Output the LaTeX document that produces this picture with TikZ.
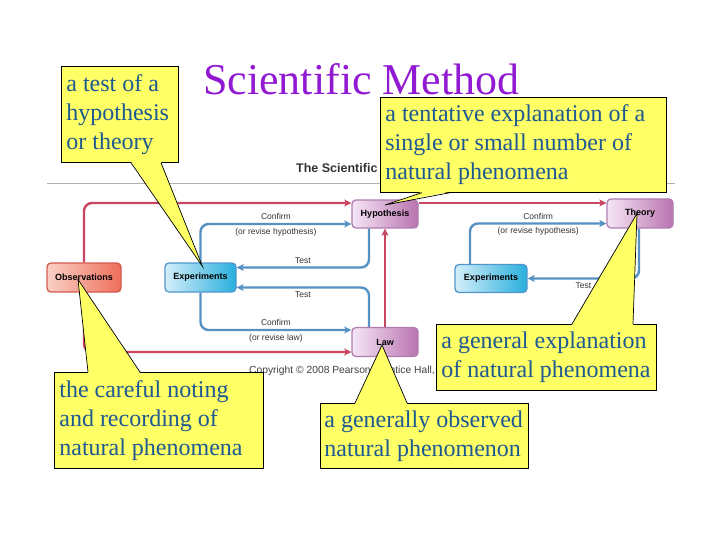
\documentclass[tikz,border=0pt]{standalone}
\usepackage{fontspec}
\setmainfont{Liberation Serif}
\setsansfont{Liberation Sans}
\usetikzlibrary{positioning}
\usetikzlibrary{arrows.meta}
\usetikzlibrary{calc}

\definecolor{titlepurple}{RGB}{145,25,210}
\definecolor{notefill}{RGB}{255,255,102}
\definecolor{notetext}{RGB}{30,90,145}
\definecolor{redarrow}{RGB}{200,70,95}
\definecolor{bluearrow}{RGB}{85,145,195}
\definecolor{obsborder}{RGB}{210,90,80}
\definecolor{obsleft}{RGB}{250,208,198}
\definecolor{obsright}{RGB}{238,110,90}
\definecolor{expborder}{RGB}{80,150,205}
\definecolor{expleft}{RGB}{212,238,250}
\definecolor{expright}{RGB}{40,175,220}
\definecolor{purpborder}{RGB}{175,125,175}
\definecolor{purpleft}{RGB}{246,230,246}
\definecolor{purpright}{RGB}{185,115,175}

\begin{document}
\begin{tikzpicture}[x=1pt, y=-1pt,
        box/.style={draw, line width=1.3pt, rounded corners=4pt, inner sep=0pt,
            font=\sffamily\bfseries\fontsize{9}{10}\selectfont},
        obsbox/.style={box, draw=obsborder, left color=obsleft, right color=obsright},
        expbox/.style={box, draw=expborder, left color=expleft, right color=expright},
        purpbox/.style={box, draw=purpborder, left color=purpleft, right color=purpright},
        redline/.style={draw=redarrow, line width=2.4pt, rounded corners=8pt,
            -{Stealth[length=7pt, width=7pt, inset=1.5pt]}},
        blueline/.style={draw=bluearrow, line width=2.4pt, rounded corners=8pt,
            -{Stealth[length=7pt, width=7pt, inset=1.5pt]}},
        lbl/.style={font=\sffamily\fontsize{8.5}{10}\selectfont, text=black!80, inner sep=3pt},
        note/.style={draw=black, line width=0.7pt, fill=notefill, text=notetext, anchor=north west,
            font=\fontsize{24}{28.8}\selectfont, align=left, inner xsep=5pt, inner ysep=2pt,
            execute at begin node={\spaceskip=6pt\relax\hyphenpenalty=10000\relax}},
        pointer/.style={draw=black, line width=0.7pt, line join=miter}]
        \useasboundingbox (0,0) rectangle (720,540);

        % header of the figure
        \node[anchor=base west, inner sep=0pt, text=black!80,
            font=\sffamily\bfseries\fontsize{12.5}{14}\selectfont] (Header) at (296,173) {The Scientific};
        \draw[black!30, line width=0.8pt] (47,183) -- (675,183);

        \node[obsbox, minimum width=74pt, minimum height=29pt] (Observations) at (84,277.5) {Observations};
        \node[expbox, minimum width=71pt, minimum height=29pt] (Experiments) at (200.5,277.5) {Experiments};
        \node[purpbox, minimum width=66pt, minimum height=28pt] (Hypothesis) at (385,214) {Hypothesis};
        \node[purpbox, minimum width=66pt, minimum height=29pt] (Law) at (385,342) {Law};
        \node[purpbox, minimum width=66pt, minimum height=29pt] (Theory) at (640,213.5) {Theory};
        \node[expbox, minimum width=72pt, minimum height=28pt] (Experiments2) at (491,278.5) {Experiments};

        \draw[redline] (Observations.north) |- ([yshift=11pt]Hypothesis.west);
        \draw[redline] (Observations.south) |- ([yshift=-10pt]Law.west);
        \draw[redline] ([yshift=11pt]Hypothesis.east) -- ([yshift=11pt]Hypothesis.east -| Theory.west);
        \draw[redline] (Law.north) -- (Hypothesis.south);

        \draw[blueline] (Experiments.north) |- ([yshift=-10pt]Hypothesis.west)
            node[lbl, above, pos=0.75] {Confirm}
            node[lbl, below, pos=0.75] {(or revise hypothesis)};
        \draw[blueline] ([xshift=-16pt]Hypothesis.south) |- ([yshift=10pt]Experiments.east)
            node[lbl, above, pos=0.75] {Test};
        \draw[blueline] ([xshift=-16pt]Law.north) |- ([yshift=-10pt]Experiments.east)
            node[lbl, below, pos=0.75] {Test};
        \draw[blueline] (Experiments.south) |- ([yshift=12pt]Law.west)
            node[lbl, above, pos=0.75] {Confirm}
            node[lbl, below, pos=0.75] {(or revise law)};
        \draw[blueline] ([xshift=-21pt]Experiments2.north) |- ([yshift=-10pt]Theory.west)
            node[lbl, above, pos=0.75] {Confirm}
            node[lbl, below, pos=0.75] {(or revise hypothesis)};
        \draw[blueline] ([xshift=-1pt]Theory.south) |- (Experiments2.east)
            node[lbl, below, pos=0.75] {Test};

        \node[anchor=base west, inner sep=0pt, text=black!75,
            font=\sffamily\fontsize{10.3}{12}\selectfont] (Copyright) at (249,373) {Copyright \textcopyright{} 2008 Pearson Prentice Hall, Inc.};

        % title
        \node[anchor=base west, inner sep=0pt, text=titlepurple,
            font=\fontsize{44}{48}\selectfont] (Title) at (203,95) {Scientific Method};

        % callouts
        \node[note, minimum width=117pt, minimum height=96pt, text width=107pt] (TestNote) at (61,66)
            {a test of a\\hypothesis\\or theory};
        \fill[notefill] ($(TestNote.south west)+(70,-1)$) -- ($(Experiments.center)+(2,-11)$)
            -- ($(TestNote.south west)+(100,-1)$) -- cycle;
        \draw[pointer] ($(TestNote.south west)+(70,0)$) -- ($(Experiments.center)+(2,-11)$)
            -- ($(TestNote.south west)+(100,0)$);

        \node[note, minimum width=286pt, minimum height=95pt, text width=276pt] (HypothesisNote) at (380,97)
            {a tentative explanation of a\\single or small number of\\natural phenomena};
        \fill[notefill] ($(HypothesisNote.south west)+(42,-1)$) -- ($(Hypothesis.center)+(0,-9)$)
            -- ($(HypothesisNote.south west)+(70,-1)$) -- cycle;
        \draw[pointer] ($(HypothesisNote.south west)+(42,0)$) -- ($(Hypothesis.center)+(0,-9)$)
            -- ($(HypothesisNote.south west)+(70,0)$);

        \node[note, minimum width=220pt, minimum height=66pt, text width=210pt] (TheoryNote) at (436,324)
            {a general explanation\\of natural phenomena};
        \fill[notefill] ($(TheoryNote.north west)+(136,1)$) -- ($(Theory.center)+(-3,0)$)
            -- ($(TheoryNote.north west)+(197,1)$) -- cycle;
        \draw[pointer] ($(TheoryNote.north west)+(136,0)$) -- ($(Theory.center)+(-3,0)$)
            -- ($(TheoryNote.north west)+(197,0)$);

        \node[note, inner xsep=4pt, minimum width=208pt, minimum height=65pt, text width=200pt] (LawNote) at (320,403)
            {a generally observed\\natural phenomenon};
        \fill[notefill] ($(LawNote.north west)+(35,1)$) -- ($(Law.center)+(-3,3)$)
            -- ($(LawNote.north west)+(87,1)$) -- cycle;
        \draw[pointer] ($(LawNote.north west)+(35,0)$) -- ($(Law.center)+(-3,3)$)
            -- ($(LawNote.north west)+(87,0)$);

        \node[note, minimum width=209pt, minimum height=96pt, text width=199pt] (ObservationNote) at (54,372)
            {the careful noting\\and recording of\\natural phenomena};
        \fill[notefill] ($(ObservationNote.north west)+(34,1)$) -- ($(Observations.center)+(-6,2)$)
            -- ($(ObservationNote.north west)+(86,1)$) -- cycle;
        \draw[pointer] ($(ObservationNote.north west)+(34,0)$) -- ($(Observations.center)+(-6,2)$)
            -- ($(ObservationNote.north west)+(86,0)$);

\end{tikzpicture}
\end{document}
